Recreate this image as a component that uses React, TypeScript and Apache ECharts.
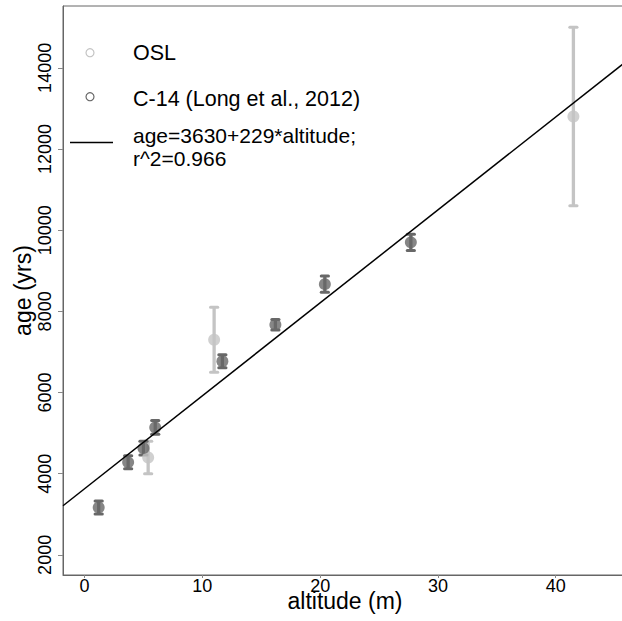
import React, { useEffect, useRef } from "react";
import * as echarts from "echarts";

// ---- data ----
const oslAltitude = [5.4, 11.0, 41.5];
const oslAge = [4400, 7300, 12800];
const oslLow = [4000, 6500, 10600];
const oslHigh = [4800, 8100, 15000];

const c14Altitude = [1.2, 3.7, 5.0, 6.0, 11.7, 16.2, 20.4, 27.7];
const c14Age = [3170, 4280, 4630, 5140, 6770, 7670, 8670, 9700];
const c14Low = [3010, 4120, 4460, 4970, 6610, 7540, 8470, 9500];
const c14High = [3330, 4440, 4800, 5310, 6930, 7800, 8870, 9900];

const fitIntercept = 3630;
const fitSlope = 229;

const xTicks = [0, 10, 20, 30, 40];
const yTicks = [2000, 4000, 6000, 8000, 10000, 12000, 14000];

const X_MIN = -1.83;
const X_MAX = 46.05;
const Y_MIN = 1504;
const Y_MAX = 15524;

const FONT = "'Liberation Sans', Arial, sans-serif";
const OSL_COLOR = "#c4c4c4";
const C14_COLOR = "#686868";

function errorBarSeries(name: string, xs: number[], lo: number[], hi: number[], color: string) {
  return {
    type: "custom",
    name,
    silent: true,
    data: xs.map((x, i) => [x, lo[i], hi[i]]),
    encode: { x: 0, y: [1, 2] },
    renderItem: (params: any, api: any) => {
      const x = api.value(0);
      const pLo = api.coord([x, api.value(1)]);
      const pHi = api.coord([x, api.value(2)]);
      const hw = 3.6;
      return {
        type: "group",
        children: [
          {
            type: "line",
            shape: { x1: pLo[0], y1: pLo[1], x2: pHi[0], y2: pHi[1] },
            style: { stroke: color, lineWidth: 3.3 },
          },
          {
            type: "line",
            shape: { x1: pLo[0] - hw, y1: pLo[1], x2: pLo[0] + hw, y2: pLo[1] },
            style: { stroke: color, lineWidth: 3, lineCap: "round" },
          },
          {
            type: "line",
            shape: { x1: pHi[0] - hw, y1: pHi[1], x2: pHi[0] + hw, y2: pHi[1] },
            style: { stroke: color, lineWidth: 3, lineCap: "round" },
          },
        ],
      };
    },
    z: 2,
  };
}

export default function App() {
  const ref = useRef<HTMLDivElement>(null);

  useEffect(() => {
    if (!ref.current) return;
    const chart = echarts.init(ref.current, undefined, { renderer: "svg" });

    const fitX = [X_MIN, X_MAX];
    const fitData = fitX.map((x) => [x, fitIntercept + fitSlope * x]);

    const legendText = (text: string, y: number, size = 21.5) => ({
      type: "text",
      x: 133,
      y,
      style: {
        text,
        font: `${size}px ${FONT}`,
        fill: "#000",
        verticalAlign: "middle",
        align: "left",
      },
      z: 10,
    });

    chart.setOption({
      animation: false,
      backgroundColor: "#ffffff",
      grid: {
        left: 63,
        right: -5,
        top: 6,
        bottom: 46,
        show: true,
        borderColor: "#666666",
        borderWidth: 1,
        backgroundColor: "transparent",
        containLabel: false,
        outerBoundsMode: "none",
      },
      xAxis: {
        type: "value",
        min: X_MIN,
        max: X_MAX,
        name: "altitude (m)",
        nameLocation: "middle",
        nameGap: 14.5,
        nameMoveOverlap: false,
        nameTextStyle: { fontFamily: FONT, fontSize: 23, color: "#000" },
        axisLine: { show: true, onZero: false, lineStyle: { color: "#666666", width: 1 } },
        axisTick: { show: true, length: 3, customValues: xTicks, lineStyle: { color: "#888888" } },
        axisLabel: {
          customValues: xTicks,
          formatter: (v: number) => String(v),
          fontFamily: FONT,
          fontSize: 18,
          color: "#000",
          margin: 2,
        },
        splitLine: { show: false },
      },
      yAxis: {
        type: "value",
        min: Y_MIN,
        max: Y_MAX,
        name: "age (yrs)",
        nameLocation: "middle",
        nameGap: 29,
        nameMoveOverlap: false,
        nameRotate: 90,
        nameTextStyle: { fontFamily: FONT, fontSize: 23, color: "#000" },
        axisLine: { show: true, onZero: false, lineStyle: { color: "#666666", width: 1 } },
        axisTick: { show: true, length: 5, customValues: yTicks, lineStyle: { color: "#888888" } },
        axisLabel: {
          customValues: yTicks,
          formatter: (v: number) => String(v),
          rotate: 90,
          fontFamily: FONT,
          fontSize: 18,
          color: "#000",
          margin: 9,
        },
        splitLine: { show: false },
      },
      series: [
        errorBarSeries("OSL err", oslAltitude, oslLow, oslHigh, OSL_COLOR),
        {
          type: "scatter",
          name: "OSL",
          data: oslAltitude.map((x, i) => [x, oslAge[i]]),
          symbol: "circle",
          symbolSize: 12,
          itemStyle: { color: OSL_COLOR },
          z: 3,
        },
        errorBarSeries("C-14 err", c14Altitude, c14Low, c14High, C14_COLOR),
        {
          type: "scatter",
          name: "C-14 (Long et al., 2012)",
          data: c14Altitude.map((x, i) => [x, c14Age[i]]),
          symbol: "circle",
          symbolSize: 12,
          itemStyle: { color: C14_COLOR },
          z: 5,
        },
        {
          type: "line",
          name: "fit",
          data: fitData,
          showSymbol: false,
          symbol: "none",
          lineStyle: { color: "#000000", width: 1.5 },
          z: 8,
        },
      ],
      graphic: [
        {
          type: "circle",
          shape: { cx: 90, cy: 52.7, r: 4 },
          style: { fill: "none", stroke: OSL_COLOR, lineWidth: 1.2 },
          z: 10,
        },
        legendText("OSL", 53),
        {
          type: "circle",
          shape: { cx: 90, cy: 96.7, r: 4 },
          style: { fill: "none", stroke: C14_COLOR, lineWidth: 1.2 },
          z: 10,
        },
        legendText("C-14 (Long et al., 2012)", 98.5),
        {
          type: "line",
          shape: { x1: 70, y1: 142.5, x2: 113, y2: 142.5 },
          style: { stroke: "#000", lineWidth: 1.5 },
          z: 10,
        },
        legendText("age=3630+229*altitude;", 135.3, 21),
        legendText("r^2=0.966", 158.8, 21),
      ],
    });

    return () => chart.dispose();
  }, []);

  return <div ref={ref} style={{ width: 622, height: 621, position: "absolute", left: 0, top: 0 }} />;
}
